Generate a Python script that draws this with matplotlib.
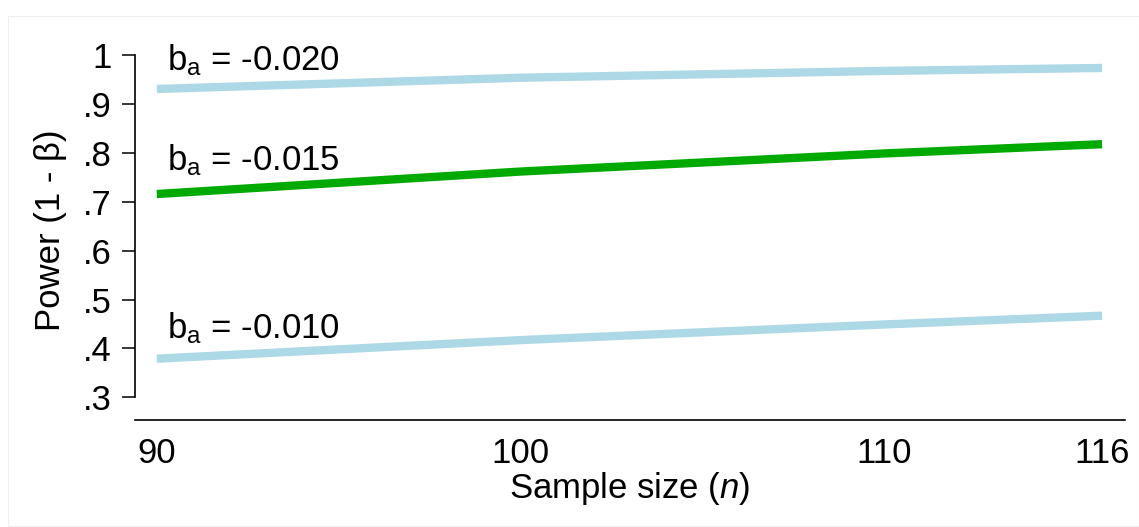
import matplotlib
matplotlib.use("Agg")
import matplotlib.pyplot as plt
from matplotlib.patches import Rectangle

plt.rcParams['font.family'] = ['Liberation Sans', 'DejaVu Sans']
plt.rcParams['mathtext.fontset'] = 'custom'
plt.rcParams['mathtext.rm'] = 'Liberation Sans'
plt.rcParams['mathtext.it'] = 'Liberation Sans:italic'

# Data
sample_size = [90, 100, 110, 116]
power_b020 = [0.931, 0.954, 0.968, 0.974]
power_b015 = [0.716, 0.762, 0.799, 0.818]
power_b010 = [0.379, 0.417, 0.449, 0.467]
labels = ["-0.020", "-0.015", "-0.010"]
label_y = [0.970, 0.765, 0.421]
x_ticks = [90, 100, 110, 116]
y_ticks = [0.3, 0.4, 0.5, 0.6, 0.7, 0.8, 0.9, 1.0]
y_ticklabels = [".3", ".4", ".5", ".6", ".7", ".8", ".9", "1"]

FS = 25

fig = plt.figure(figsize=(11.39, 5.27), dpi=100)
fig.patches.append(Rectangle((8/1139, 1/527), 1 - 8/1139, 1 - 17/527,
                             transform=fig.transFigure, fill=False,
                             edgecolor='#eeeeee', linewidth=0.8))
ax = fig.add_axes([135/1139, 1 - 420/527, (1125 - 135)/1139, (420 - 40)/527])

lb = '#ADD8E6'
gr = '#00AA00'
ax.plot(sample_size, power_b020, color=lb, lw=6, solid_capstyle='butt')
ax.plot(sample_size, power_b015, color=gr, lw=6, solid_capstyle='butt')
ax.plot(sample_size, power_b010, color=lb, lw=6, solid_capstyle='butt')

for lab, yy in zip(labels, label_y):
    ax.text(90.28, yy, r'b$_\mathregular{a}$ = ' + lab, fontsize=FS,
            ha='left', va='baseline')

for s in ['top', 'right']:
    ax.spines[s].set_visible(False)
ax.spines['left'].set_bounds(0.3, 1.0)
ax.spines['left'].set_linewidth(1.2)
ax.spines['bottom'].set_linewidth(1.2)

ax.set_yticks(y_ticks)
ax.set_yticklabels(y_ticklabels)
ax.set_xticks(x_ticks)
ax.set_xticklabels([str(v) for v in x_ticks])
ax.tick_params(axis='y', length=9.5, width=1.1, pad=7, labelsize=FS)
ax.tick_params(axis='x', length=0, pad=12, labelsize=FS)

ax.set_xlim(89.4, 116.63)
ax.set_ylim(0.2535, 0.2535 + (420 - 40) / 488.6)

ax.set_ylabel('Power (1 - β)', fontsize=FS, labelpad=12)
ax.set_xlabel(r'Sample size ($\mathit{n}$)', fontsize=FS, labelpad=0)

fig.savefig('out.png', dpi=100)
